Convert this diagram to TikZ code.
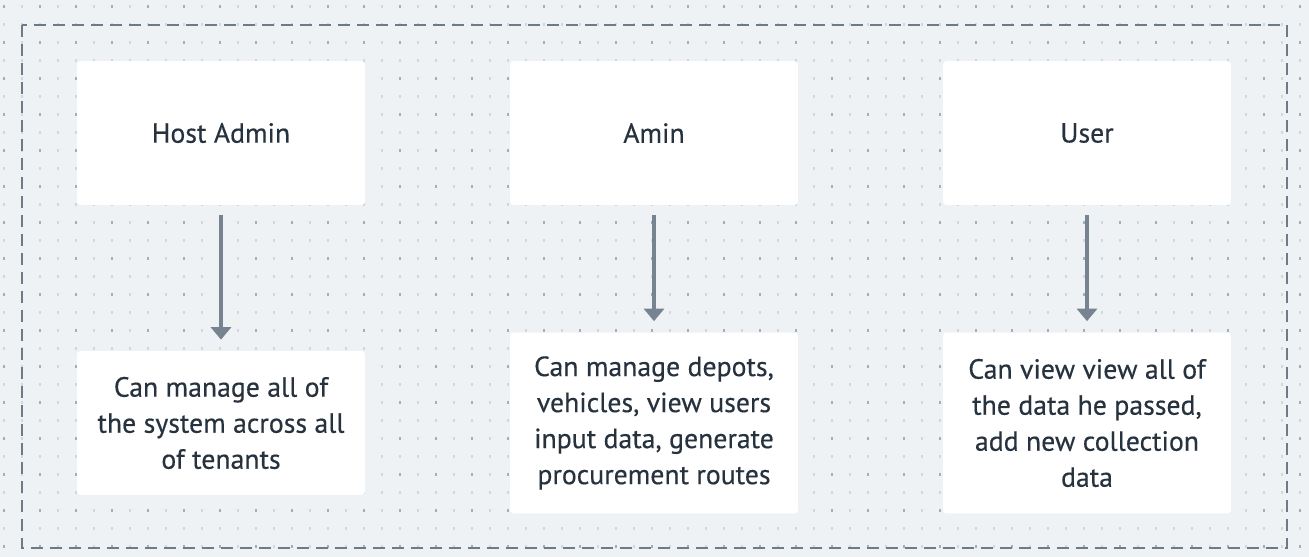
\documentclass[tikz,border=0pt]{standalone}
\usepackage{fontspec}
\setmainfont{PT Sans}
\newfontfamily\boxfont{PT Sans}[FakeBold=0.35]
\usepackage{tikz}
\usetikzlibrary{arrows.meta}
\definecolor{canvas}{HTML}{EEF2F5}
\definecolor{dotdark}{HTML}{A3AEBA}
\definecolor{dotlight}{HTML}{D0D7DE}
\definecolor{frame}{HTML}{6E7A88}
\definecolor{ink}{HTML}{27323F}
\definecolor{link}{HTML}{778391}

\begin{document}
\begin{tikzpicture}[x=0.02cm,y=-0.02cm]
  \tikzstyle{role} = [fill=white,rounded corners=2pt,minimum width=5.76cm,
    minimum height=2.88cm,inner sep=0pt,align=center,text=ink,
    font=\boxfont\fontsize{15.8}{20.5}\selectfont]
  \tikzstyle{duty} = [role,minimum height=3.62cm]
  \tikzstyle{grants} = [draw=link,line width=2.8pt,shorten <=0.2cm,
    shorten >=0.22cm,-{Triangle[width=0.4cm,length=0.25cm]}]
  %%
  \fill[canvas] (0,0) rectangle (1309,557);
  \useasboundingbox (0,0) rectangle (1309,557);
  %% dot grid
  \foreach \i in {0,...,72} {
    \foreach \j in {0,...,30} {
      \pgfmathsetmacro{\px}{4+18*\i}
      \pgfmathsetmacro{\py}{6.5+18*\j}
      \ifodd\i \def\dotc{dotlight}\else
        \ifodd\j \def\dotc{dotlight}\else \def\dotc{dotdark}\fi\fi
      \fill[\dotc] (\px-1.3,\py-1.3) rectangle (\px+1.3,\py+1.3);
    }
  }
  %% outer frame
  \draw[frame,line width=1.5pt,dash pattern=on 0.24cm off 0.14cm]
    (22,25) rectangle (1287,548);
  %%
  \node[role] (ha) at (221,133) {Host Admin};
  \node[role] (am) at (654,133) {Amin};
  \node[role] (us) at (1087,133) {User};
  %%
  \node[role] (hd) at (221,423) {Can manage all of\\the system across all\\of tenants};
  \node[duty] (ad) at (654,423) {Can manage depots,\\vehicles, view users\\input data, generate\\procurement routes};
  \node[duty] (ud) at (1087,423) {Can view view all of\\the data he passed,\\add new collection\\data};
  %%
  \path [grants] (ha) to (hd);
  \path [grants] (am) to (ad);
  \path [grants] (us) to (ud);
\end{tikzpicture}
\end{document}
